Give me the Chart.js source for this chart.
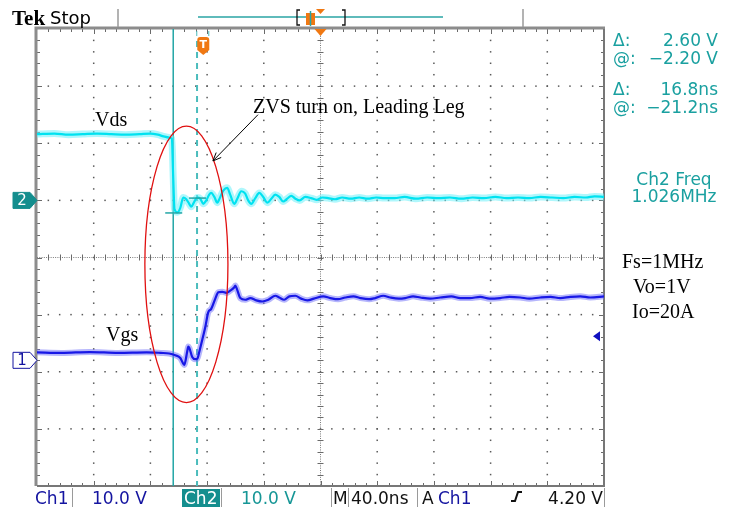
<!DOCTYPE html>
<html lang="en">
<head>
<meta charset="UTF-8">
<title>ZVS turn on, Leading Leg</title>
<script src="https://cdn.jsdelivr.net/npm/chart.js"></script>
<style>
  body { margin: 0; background: #fff; }
  canvas { display: block; }
</style>
</head>
<body>
<canvas id="scope" width="742" height="508"></canvas>
<script>
// time in ns, relative to the trigger point
const vdsTime = [-117.3, -105, -95, -85, -75, -65, -55, -45, -37.4, -32, -28, -24, -22.2,
  -21.2, -20.3, -18.3, -16.2, -14.1, -12.0, -9.9, -8.5, -6.3, -4.2, -2.1, 0, 2.1, 4.2, 5.6,
  7.8, 9.9, 12.0, 14.1, 16.9, 19.0, 21.9, 24.0, 26.8, 29.6, 31.7, 33.9, 36.7, 39.5, 42.3,
  45.2, 48.0, 50.8, 53.6, 56.4, 59.2, 62.1, 65.0, 68.0, 72, 76, 80, 84, 88, 93, 98, 104,
  110, 116, 122, 128, 135, 142, 150, 158, 166, 174, 182, 190, 198, 206, 214, 222, 230, 238,
  246, 254, 262, 270, 276, 282.7];
const vdsVolts = [11.6, 11.7, 11.5, 11.6, 11.7, 11.6, 11.5, 11.6, 11.7, 11.5, 11.2, 11.0, 10.8,
  4.0, -1.5, -2.1, -1.3, 0.5, 0.2, -0.6, -1.1, -0.2, 0.5, 0.3, -0.6, 0.0, 1.0, 1.3,
  0.6, -0.4, 0.6, 1.7, 2.2, 1.0, -0.6, 0.3, 1.6, 1.2, 0.0, -0.6, 0.4, 1.3, 0.6,
  -0.4, 0.3, 1.0, 0.6, -0.2, 0.3, 0.8, 0.3, 0.0, 0.6, 0.4, 0.1, 0.5, 0.4, 0.2, 0.5, 0.3,
  0.5, 0.3, 0.5, 0.4, 0.4, 0.6, 0.3, 0.5, 0.4, 0.5, 0.3, 0.5, 0.4, 0.6, 0.4, 0.5, 0.4, 0.6,
  0.5, 0.4, 0.6, 0.5, 0.7, 0.6];

const vgsTime = [-117.3, -100, -80, -60, -40, -30, -24, -19.8, -16.2, -14.1, -13.4, -11.3,
  -10.6, -9.9, -7.8, -5.6, -4.2, -2.8, -0.7, 1.4, 3.5, 5.6, 8.5, 10.6, 13.4, 16.2, 19.0,
  21.9, 22.6, 24.0, 26.1, 29.6, 33.2, 37.4, 41.6, 45.9, 50.8, 53.6, 57.1, 60.7, 64.9, 69.1,
  73.4, 78, 84.7, 89.6, 95, 100.2, 106, 110.8, 117, 121.3, 127, 131.9, 138, 142.5, 148,
  153.1, 160, 167.2, 175, 181.3, 188, 195.4, 202, 209.5, 216, 223.6, 230, 237.8, 245,
  251.9, 259, 266, 273, 282.7];
const vgsVolts = [1.4, 1.3, 1.45, 1.3, 1.4, 1.3, 1.2, 0.9, 0.4, -0.6, -0.8, 1.6,
  2.4, 2.2, 0.6, 0.2, 0.3, 1.5, 3.6, 5.8, 8.4, 9.0, 10.8, 11.9, 12.0, 11.8, 12.2,
  12.8, 13.1, 12.3, 10.9, 10.6, 10.9, 10.5, 10.3, 10.6, 11.3, 11.0, 10.6, 11.2, 11.3, 10.8,
  10.5, 10.8, 11.2, 10.9, 10.7, 11.0, 11.2, 10.9, 10.7, 10.9, 11.3, 11.0, 10.8, 10.9, 11.2,
  11.0, 10.8, 11.0, 11.2, 10.9, 10.9, 11.1, 10.8, 10.9, 11.1, 11.0, 10.8, 11.0, 11.1,
  10.9, 11.1, 11.2, 11.0, 11.2];

// scope settings
const VOLTS_PER_DIV = 10;
const CH1_OFFSET = -1.8;   // divisions
const CH2_OFFSET = 1.0;
const TIME_MIN = -117.3, TIME_MAX = 282.7;  // 40 ns/div
const timeCursors = [-21.2, -4.4];
const voltCursors = [-2.2, 0.4];           // on Ch2
const triggerLevel = 4.2;                  // on Ch1

const TEAL = '#159a9a';
const BLUE = '#1414a0';
const ORANGE = '#f07812';
const SANS = '"DejaVu Sans", Verdana, sans-serif';
const SERIF = '"Liberation Serif", "Times New Roman", serif';

const toPoints = (times, volts, offset) =>
  times.map((t, i) => ({ x: t, y: volts[i] / VOLTS_PER_DIV + offset }));
const ch1 = toPoints(vgsTime, vgsVolts, CH1_OFFSET);
const ch2 = toPoints(vdsTime, vdsVolts, CH2_OFFSET);

function trace(data, color, width, order) {
  return {
    data, borderColor: color, borderWidth: width, order,
    pointRadius: 0, fill: false, cubicInterpolationMode: 'monotone'
  };
}

// dotted scope graticule and time cursors
const graticule = {
  id: 'graticule',
  beforeDatasetsDraw(chart) {
    const { ctx, chartArea: a, scales } = chart;
    const dx = (a.right - a.left) / 10, dy = (a.bottom - a.top) / 8;
    const cx = a.left + 5 * dx, cy = a.top + 4 * dy;
    ctx.save();
    ctx.fillStyle = '#5a5a5a';
    const dot = (x, y) => ctx.fillRect(x - 0.75, y - 0.75, 1.5, 1.5);
    for (let i = 1; i < 10; i++) {
      if (i === 5) continue;
      for (let k = 1; k < 40; k++) dot(a.left + i * dx, a.top + k * dy / 5);
    }
    for (let j = 1; j < 8; j++) {
      if (j === 4) continue;
      for (let k = 1; k < 50; k++) dot(a.left + k * dx / 5, a.top + j * dy);
    }
    // centre lines
    ctx.fillStyle = '#7a7a7a';
    for (let k = 0; k < 250; k++) ctx.fillRect(a.left + k * dx / 25, cy - 0.5, 1, 1);
    for (let k = 0; k < 200; k++) ctx.fillRect(cx - 0.5, a.top + k * dy / 25, 1, 1);
    ctx.strokeStyle = '#6a6a6a';
    ctx.lineWidth = 1;
    ctx.beginPath();
    for (let k = 1; k < 50; k++) {
      const x = Math.round(a.left + k * dx / 5) + 0.5;
      ctx.moveTo(x, cy - 3); ctx.lineTo(x, cy + 3);
    }
    for (let k = 1; k < 40; k++) {
      const y = Math.round(a.top + k * dy / 5) + 0.5;
      ctx.moveTo(cx - 3, y); ctx.lineTo(cx + 3, y);
    }
    // ticks along frame
    for (let k = 1; k < 50; k++) {
      const x = Math.round(a.left + k * dx / 5) + 0.5;
      const len = k % 5 === 0 ? 5 : 3;
      ctx.moveTo(x, a.top); ctx.lineTo(x, a.top + len);
      ctx.moveTo(x, a.bottom); ctx.lineTo(x, a.bottom - len);
    }
    for (let k = 1; k < 40; k++) {
      const y = Math.round(a.top + k * dy / 5) + 0.5;
      const len = k % 5 === 0 ? 5 : 3;
      ctx.moveTo(a.left, y); ctx.lineTo(a.left + len, y);
      ctx.moveTo(a.right, y); ctx.lineTo(a.right - len, y);
    }
    ctx.stroke();
    // frame
    ctx.strokeStyle = '#8c8c8c';
    ctx.lineWidth = 3;
    ctx.beginPath();
    ctx.moveTo(a.left - 1, a.bottom); ctx.lineTo(a.left - 1, a.top - 1); ctx.lineTo(a.right + 1, a.top - 1);
    ctx.stroke();
    ctx.lineWidth = 2;
    ctx.strokeStyle = '#777';
    ctx.beginPath();
    ctx.moveTo(a.right, a.top); ctx.lineTo(a.right, a.bottom); ctx.lineTo(a.left, a.bottom);
    ctx.stroke();
    // time cursors
    const x1 = scales.x.getPixelForValue(timeCursors[0]);
    const x2 = scales.x.getPixelForValue(timeCursors[1]);
    ctx.strokeStyle = '#23a6a6';
    ctx.lineWidth = 1.5;
    ctx.beginPath(); ctx.moveTo(x1, a.top); ctx.lineTo(x1, a.bottom); ctx.stroke();
    ctx.strokeStyle = '#4bbcbc';
    ctx.lineWidth = 2;
    ctx.setLineDash([6, 5]);
    ctx.beginPath(); ctx.moveTo(x2, a.top + 12); ctx.lineTo(x2, a.bottom); ctx.stroke();
    ctx.restore();
  }
};

// readouts, markers and hand-drawn annotations
const overlay = {
  id: 'overlay',
  afterDraw(chart) {
    const { ctx, chartArea: a, scales } = chart;
    const X = v => scales.x.getPixelForValue(v);
    const Y = v => scales.y.getPixelForValue(v);
    ctx.save();

    // voltage cursor marks on Ch2
    ctx.strokeStyle = '#23a6a6';
    ctx.lineWidth = 1.5;
    voltCursors.forEach((v, i) => {
      const y = Y(v / VOLTS_PER_DIV + CH2_OFFSET), x = X(timeCursors[i]);
      ctx.beginPath(); ctx.moveTo(x - 8, y); ctx.lineTo(x + 9, y); ctx.stroke();
    });

    // red ellipse around the transition
    const ec = { t: -11.9, d: -0.12, rt: 29.3, rd: 2.42 };
    ctx.strokeStyle = '#e01010';
    ctx.lineWidth = 1.3;
    ctx.beginPath();
    ctx.ellipse(X(ec.t), Y(ec.d), X(ec.t + ec.rt) - X(ec.t), Y(ec.d) - Y(ec.d + ec.rd), 0, 0, Math.PI * 2);
    ctx.stroke();

    // arrow from label to ellipse
    const sx = X(38.6), sy = Y(2.50), ex = X(6.8), ey = Y(1.69);
    const ang = Math.atan2(ey - sy, ex - sx);
    ctx.strokeStyle = '#000';
    ctx.lineWidth = 1;
    ctx.beginPath();
    ctx.moveTo(sx, sy); ctx.lineTo(ex, ey);
    ctx.moveTo(ex - 9 * Math.cos(ang - 0.4), ey - 9 * Math.sin(ang - 0.4));
    ctx.lineTo(ex, ey);
    ctx.lineTo(ex - 9 * Math.cos(ang + 0.4), ey - 9 * Math.sin(ang + 0.4));
    ctx.stroke();

    // channel ground markers
    const marker = (y, label, fill, text) => {
      ctx.beginPath();
      ctx.moveTo(13, y - 8); ctx.lineTo(30, y - 8); ctx.lineTo(37, y);
      ctx.lineTo(30, y + 8); ctx.lineTo(13, y + 8); ctx.closePath();
      ctx.fillStyle = fill; ctx.fill();
      ctx.strokeStyle = text === '#fff' ? fill : BLUE; ctx.lineWidth = 1; ctx.stroke();
      ctx.fillStyle = text;
      ctx.font = '15px ' + SANS;
      ctx.textAlign = 'center'; ctx.textBaseline = 'middle';
      ctx.fillText(label, 22, y + 1);
    };
    marker(Y(CH2_OFFSET), '2', '#148e8e', '#fff');
    marker(Y(CH1_OFFSET), '1', '#fff', BLUE);

    // trigger level marker (Ch1)
    const ty = Y(triggerLevel / VOLTS_PER_DIV + CH1_OFFSET);
    ctx.fillStyle = '#1010c0';
    ctx.beginPath(); ctx.moveTo(593, ty); ctx.lineTo(600, ty - 5); ctx.lineTo(600, ty + 5); ctx.closePath(); ctx.fill();

    // trigger position "T" marker
    const tx = X(0);
    ctx.fillStyle = ORANGE;
    ctx.beginPath();
    ctx.moveTo(tx - 6, 40); ctx.quadraticCurveTo(tx - 6, 37, tx - 3, 37); ctx.lineTo(tx + 3, 37);
    ctx.quadraticCurveTo(tx + 6, 37, tx + 6, 40); ctx.lineTo(tx + 6, 50); ctx.lineTo(tx, 55);
    ctx.lineTo(tx - 6, 50); ctx.closePath(); ctx.fill();
    ctx.fillStyle = '#fff';
    ctx.font = 'bold 11px ' + SANS;
    ctx.textAlign = 'center'; ctx.textBaseline = 'middle';
    ctx.fillText('T', tx, 45);
    ctx.strokeStyle = '#4bbcbc'; ctx.lineWidth = 1;
    ctx.beginPath(); ctx.moveTo(tx - 6.5, 31); ctx.lineTo(tx - 6.5, 36); ctx.moveTo(tx + 5.5, 31); ctx.lineTo(tx + 5.5, 36); ctx.stroke();

    // expansion point marker at centre
    const mx = (a.left + a.right) / 2;
    ctx.fillStyle = ORANGE;
    ctx.beginPath(); ctx.moveTo(mx - 6, a.top); ctx.lineTo(mx + 6, a.top); ctx.lineTo(mx, a.top + 7); ctx.closePath(); ctx.fill();

    // top status bar
    ctx.textAlign = 'left'; ctx.textBaseline = 'alphabetic';
    ctx.fillStyle = '#000';
    ctx.font = 'bold 21px ' + SERIF;
    ctx.fillText('Tek', 12, 25);
    ctx.font = '18px ' + SANS;
    ctx.fillText('Stop', 50, 24);
    ctx.strokeStyle = '#9a9a9a'; ctx.lineWidth = 1.5;
    ctx.beginPath(); ctx.moveTo(118, 9); ctx.lineTo(118, 27); ctx.moveTo(523, 9); ctx.lineTo(523, 27); ctx.stroke();
    ctx.strokeStyle = '#2aa5a5';
    ctx.beginPath(); ctx.moveTo(198, 17); ctx.lineTo(443, 17); ctx.stroke();
    ctx.strokeStyle = '#111'; ctx.lineWidth = 1.3;
    ctx.beginPath();
    ctx.moveTo(300, 10); ctx.lineTo(297, 10); ctx.lineTo(297, 25); ctx.lineTo(300, 25);
    ctx.moveTo(342, 10); ctx.lineTo(345, 10); ctx.lineTo(345, 25); ctx.lineTo(342, 25);
    ctx.stroke();
    ctx.fillStyle = ORANGE;
    ctx.fillRect(306, 13, 9, 12);
    ctx.beginPath(); ctx.moveTo(316, 9); ctx.lineTo(325, 9); ctx.lineTo(320.5, 14); ctx.closePath(); ctx.fill();
    ctx.strokeStyle = '#2aa5a5'; ctx.lineWidth = 1.5;
    ctx.beginPath(); ctx.moveTo(310.5, 11); ctx.lineTo(310.5, 26); ctx.stroke();

    // cursor readouts
    ctx.fillStyle = '#1aa0a0';
    ctx.font = '17px ' + SANS;
    const readouts = [['\u0394:', '2.60 V', 46], ['@:', '\u22122.20 V', 64], ['\u0394:', '16.8ns', 95], ['@:', '\u221221.2ns', 113]];
    readouts.forEach(([k, v, y]) => {
      ctx.textAlign = 'left'; ctx.fillText(k, 613, y);
      ctx.textAlign = 'right'; ctx.fillText(v, 718, y);
    });
    ctx.textAlign = 'center';
    ctx.fillText('Ch2 Freq', 674, 185);
    ctx.fillText('1.026MHz', 674, 202);

    // hand-written annotations
    ctx.fillStyle = '#000';
    ctx.font = '20px ' + SERIF;
    ctx.textAlign = 'left';
    ctx.fillText('ZVS turn on, Leading Leg', 253, 113);
    ctx.fillText('Vds', 95, 126);
    ctx.fillText('Vgs', 106, 341);
    ctx.fillText('Fs=1MHz', 622, 268);
    ctx.fillText('Vo=1V', 633, 293);
    ctx.fillText('Io=20A', 632, 318);

    // bottom status bar
    ctx.font = '17px ' + SANS;
    ctx.textAlign = 'left';
    ctx.fillStyle = BLUE;
    ctx.fillText('Ch1', 35, 504);
    ctx.fillText('10.0 V', 92, 504);
    ctx.fillStyle = '#148e8e';
    ctx.fillRect(182, 489, 38, 18);
    ctx.fillStyle = '#fff';
    ctx.fillText('Ch2', 184, 504);
    ctx.fillStyle = '#169696';
    ctx.fillText('10.0 V', 241, 504);
    ctx.fillStyle = '#111';
    ctx.fillText('M', 333, 504);
    ctx.fillText('40.0ns', 351, 504);
    ctx.fillText('A', 422, 504);
    ctx.fillStyle = BLUE;
    ctx.fillText('Ch1', 438, 504);
    ctx.fillStyle = '#111';
    ctx.textAlign = 'right';
    ctx.fillText('4.20 V', 603, 504);
    ctx.strokeStyle = '#111'; ctx.lineWidth = 2;
    ctx.beginPath(); ctx.moveTo(511, 501); ctx.lineTo(515, 501); ctx.lineTo(518, 492); ctx.lineTo(522, 492); ctx.stroke();
    ctx.strokeStyle = '#9a9a9a'; ctx.lineWidth = 1;
    ctx.beginPath();
    [72.5, 221.5, 331.5, 348.5, 417.5, 604.5].forEach(x => { ctx.moveTo(x, 488); ctx.lineTo(x, 507); });
    ctx.stroke();
    ctx.restore();
  }
};

new Chart(document.getElementById('scope'), {
  type: 'line',
  data: {
    datasets: [
      trace(ch2, '#00e2f0', 2.2, 0),
      trace(ch1, '#1818e6', 2.2, 0),
      trace(ch2, 'rgba(110,240,250,0.55)', 7, 1),
      trace(ch1, 'rgba(110,110,250,0.5)', 6, 1)
    ]
  },
  options: {
    responsive: false,
    animation: false,
    devicePixelRatio: 1,
    parsing: true,
    layout: { padding: { left: 37, right: 138, top: 29, bottom: 22 } },
    scales: {
      x: { type: 'linear', min: TIME_MIN, max: TIME_MAX, display: false },
      y: { min: -4, max: 4, display: false }
    },
    plugins: { legend: { display: false }, tooltip: { enabled: false } }
  },
  plugins: [graticule, overlay]
});
</script>
</body>
</html>
